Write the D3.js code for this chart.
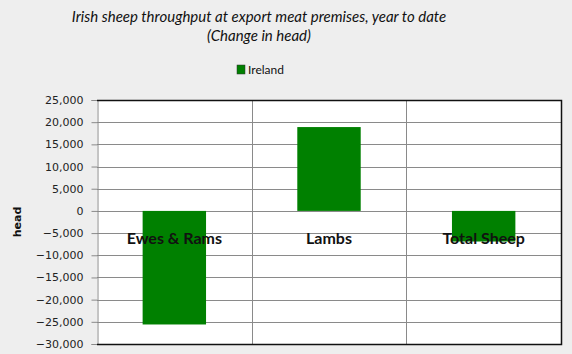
<!DOCTYPE html>
<html>
<head>
<meta charset="utf-8">
<script src="https://cdn.jsdelivr.net/npm/d3@7"></script>
<style>
  html, body { margin: 0; padding: 0; background: #eeeeee; }
  svg { display: block; }
</style>
</head>
<body>
<div id="chart"></div>
<script>
// --------------- Data ---------------
const categories = ["Ewes & Rams", "Lambs", "Total Sheep"];
const ireland = [-25600, 18900, -6900];
const yTicks = [25000, 20000, 15000, 10000, 5000, 0, -5000, -10000, -15000, -20000, -25000, -30000];
const titleLines = ["Irish sheep throughput at export meat premises, year to date", "(Change in head)"];
const seriesName = "Ireland";

// --------------- Constants ---------------
const WIDTH = 572;
const HEIGHT = 354;
const PLOT = { left: 97, right: 561, top: 100, bottom: 344 };
const BAR_COLOR = "#008000";
const GRID_COLOR = "#8a8a8a";

const svg = d3
  .select("#chart")
  .append("svg")
  .attr("width", WIDTH)
  .attr("height", HEIGHT);

svg.append("rect")
  .attr("width", WIDTH)
  .attr("height", HEIGHT)
  .attr("fill", "#eeeeee");

// Scales
const x = d3.scaleBand()
  .domain(categories)
  .range([PLOT.left, PLOT.right])
  .paddingInner(0)
  .paddingOuter(0);

const y = d3.scaleLinear()
  .domain([-30000, 25000])
  .range([PLOT.bottom, PLOT.top]);

// Plot background
svg.append("rect")
  .attr("x", PLOT.left)
  .attr("y", PLOT.top)
  .attr("width", PLOT.right - PLOT.left)
  .attr("height", PLOT.bottom - PLOT.top)
  .attr("fill", "#ffffff");

// Horizontal gridlines
svg.append("g")
  .selectAll("line")
  .data(yTicks)
  .enter()
  .append("line")
  .attr("x1", PLOT.left)
  .attr("x2", PLOT.right)
  .attr("y1", (d) => Math.round(y(d)) + 0.5)
  .attr("y2", (d) => Math.round(y(d)) + 0.5)
  .attr("stroke", GRID_COLOR)
  .attr("stroke-width", 1);

// Vertical category separators
svg.append("g")
  .selectAll("line")
  .data(categories.slice(1))
  .enter()
  .append("line")
  .attr("x1", (d) => Math.round(x(d)) + 0.5)
  .attr("x2", (d) => Math.round(x(d)) + 0.5)
  .attr("y1", PLOT.top)
  .attr("y2", PLOT.bottom)
  .attr("stroke", GRID_COLOR)
  .attr("stroke-width", 1);

// Bars
const barW = x.bandwidth() * 0.41;
svg.append("g")
  .selectAll("rect")
  .data(categories)
  .enter()
  .append("rect")
  .attr("x", (d) => x(d) + (x.bandwidth() - barW) / 2)
  .attr("width", barW)
  .attr("y", (d, i) => y(Math.max(0, ireland[i])))
  .attr("height", (d, i) => Math.abs(y(ireland[i]) - y(0)))
  .attr("fill", BAR_COLOR);

// Y axis
const yAxis = d3.axisLeft(y)
  .tickValues(yTicks)
  .tickSize(6)
  .tickPadding(8)
  .tickFormat(d3.format(","));

const yAxisG = svg.append("g")
  .attr("transform", `translate(${PLOT.left + 0.5},0)`)
  .call(yAxis);
yAxisG.select(".domain").attr("stroke", GRID_COLOR);
yAxisG.selectAll(".tick line").attr("stroke", GRID_COLOR);
yAxisG.selectAll(".tick text")
  .attr("fill", "#222")
  .style("font-family", "DejaVu Sans, Verdana, sans-serif")
  .style("font-size", "11px");

// Plot border (top, right, bottom)
svg.append("path")
  .attr("d", `M${PLOT.left},${PLOT.top + 0.5}H${PLOT.right + 0.5}V${PLOT.bottom + 0.5}H${PLOT.left}`)
  .attr("fill", "none")
  .attr("stroke", "#111")
  .attr("stroke-width", 1.5);

// Category labels placed at the zero line
svg.append("g")
  .selectAll("text")
  .data(categories)
  .enter()
  .append("text")
  .attr("x", (d) => x(d) + x.bandwidth() / 2)
  .attr("y", y(0) + 33)
  .attr("text-anchor", "middle")
  .attr("fill", "#111")
  .style("font-family", "Lato, sans-serif")
  .style("font-weight", "bold")
  .style("font-size", "16px")
  .text((d) => d);

// Y axis title
svg.append("text")
  .attr("transform", `translate(21,${(PLOT.top + PLOT.bottom) / 2}) rotate(-90)`)
  .attr("text-anchor", "middle")
  .attr("fill", "#111")
  .style("font-family", "DejaVu Sans, sans-serif")
  .style("font-weight", "bold")
  .style("font-size", "11px")
  .text("head");

// Title
svg.append("g")
  .selectAll("text")
  .data(titleLines)
  .enter()
  .append("text")
  .attr("x", 259)
  .attr("y", (d, i) => 22 + i * 19)
  .attr("text-anchor", "middle")
  .attr("fill", "#111")
  .style("font-family", "Lato, sans-serif")
  .style("font-style", "italic")
  .style("font-size", "15px")
  .text((d) => d);

// Legend
const legend = svg.append("g").attr("transform", "translate(237,65)");
legend.append("rect")
  .attr("width", 8)
  .attr("height", 9)
  .attr("fill", BAR_COLOR)
  .attr("stroke", "#333")
  .attr("stroke-width", 0.5);
legend.append("text")
  .attr("x", 11)
  .attr("y", 9)
  .attr("fill", "#111")
  .style("font-family", "Lato, sans-serif")
  .style("font-size", "12px")
  .text(seriesName);
</script>
</body>
</html>
